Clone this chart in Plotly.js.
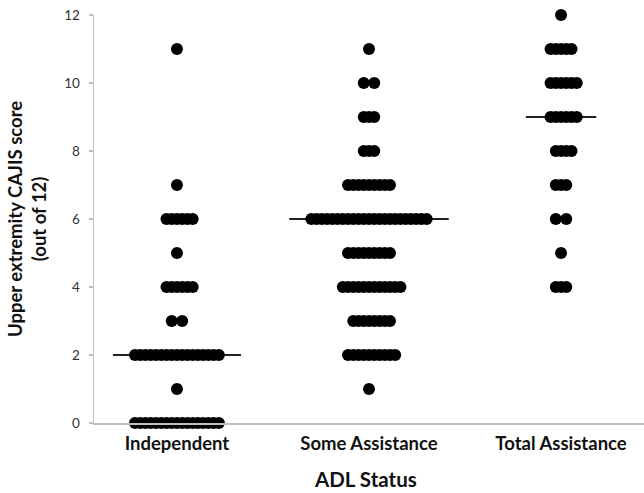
<!DOCTYPE html>
<html>
<head>
<meta charset="utf-8">
<script src="https://cdn.plot.ly/plotly-3.0.1.min.js"></script>
<style>html,body{margin:0;padding:0;background:#fff;}#chart{width:644px;height:493px;}</style>
</head>
<body>
<div id="chart"></div>
<script>
// Data: number of patients at each score, per ADL group
const categories = ["Independent", "Some Assistance", "Total Assistance"];
const scores = [0, 1, 2, 3, 4, 5, 6, 7, 8, 9, 10, 11, 12];
const countsIndependent = [17, 1, 17, 2, 6, 1, 6, 1, 0, 0, 0, 1, 0];
const countsSome        = [0, 1, 10, 8, 12, 9, 23, 9, 3, 3, 2, 1, 0];
const countsTotal       = [0, 0, 0, 0, 3, 1, 2, 3, 4, 6, 6, 5, 1];
const medians = [2, 6, 9];
const yTicks = [0, 2, 4, 6, 8, 10, 12];

const allCounts = [countsIndependent, countsSome, countsTotal];
const step = 0.0273; // horizontal spread between stacked dots (x units)

function offsets(n) {
  if (n === 2) return [-step, step];
  const out = [];
  for (let i = 0; i < n; i++) {
    const k = Math.ceil(i / 2);
    out.push(i === 0 ? 0 : (i % 2 === 1 ? k * step : -k * step));
  }
  return out;
}

const traces = [];
allCounts.forEach((counts, g) => {
  const xs = [], ys = [];
  counts.forEach((n, j) => {
    offsets(n).forEach(o => { xs.push(g + o); ys.push(scores[j]); });
  });
  const maxN = Math.max(...counts);
  const half = (maxN - 1) / 2 * step + 0.115;
  traces.push({
    x: [g - half, g + half], y: [medians[g], medians[g]],
    mode: "lines", type: "scatter", line: {color: "#222", width: 1.8},
    hoverinfo: "skip", showlegend: false, cliponaxis: false
  });
  traces.push({
    x: xs, y: ys, mode: "markers", type: "scatter", name: categories[g],
    marker: {color: "#000", size: 12, line: {width: 0}},
    showlegend: false, cliponaxis: false
  });
});

const layout = {
  width: 644, height: 493,
  margin: {l: 94, r: 0, t: 15, b: 70},
  paper_bgcolor: "#fff", plot_bgcolor: "#fff",
  font: {family: "Lato, 'Open Sans', sans-serif", color: "#000"},
  showlegend: false,
  xaxis: {
    range: [-0.432, 2.432], tickvals: [0, 1, 2], ticktext: categories,
    showline: true, linecolor: "#bfbfbf", linewidth: 1.5,
    ticks: "outside", ticklen: 3, tickcolor: "rgba(0,0,0,0)",
    showgrid: false, zeroline: false, fixedrange: true,
    tickfont: {size: 18.5, family: "Lato, sans-serif", color: "#111", weight: "bold"}
  },
  yaxis: {
    range: [0, 12], tickvals: yTicks,
    showline: true, linecolor: "#bfbfbf", linewidth: 1.5,
    ticks: "outside", ticklen: 4, tickcolor: "#bfbfbf", tickwidth: 1.5,
    ticklabelstandoff: 6,
    showgrid: false, zeroline: false, fixedrange: true,
    tickfont: {size: 13.5, family: "Lato, sans-serif", color: "#333"}
  },
  annotations: [
    {text: "ADL Status", xref: "paper", yref: "paper", x: (365 - 94) / 550, y: -(479 - 423) / 408,
     xanchor: "center", yanchor: "middle", showarrow: false,
     font: {size: 20.5, family: "Lato, sans-serif", color: "#111", weight: "bold"}},
    {text: "Upper extremity CAJIS score<br>(out of 12)", xref: "paper", yref: "paper",
     x: (27 - 94) / 550, y: (423 - 219) / 408, textangle: -90,
     xanchor: "center", yanchor: "middle", showarrow: false,
     font: {size: 18.5, family: "Lato, sans-serif", color: "#111", weight: "bold"}}
  ]
};

Plotly.newPlot("chart", traces, layout, {displayModeBar: false, staticPlot: true});
</script>
</body>
</html>
